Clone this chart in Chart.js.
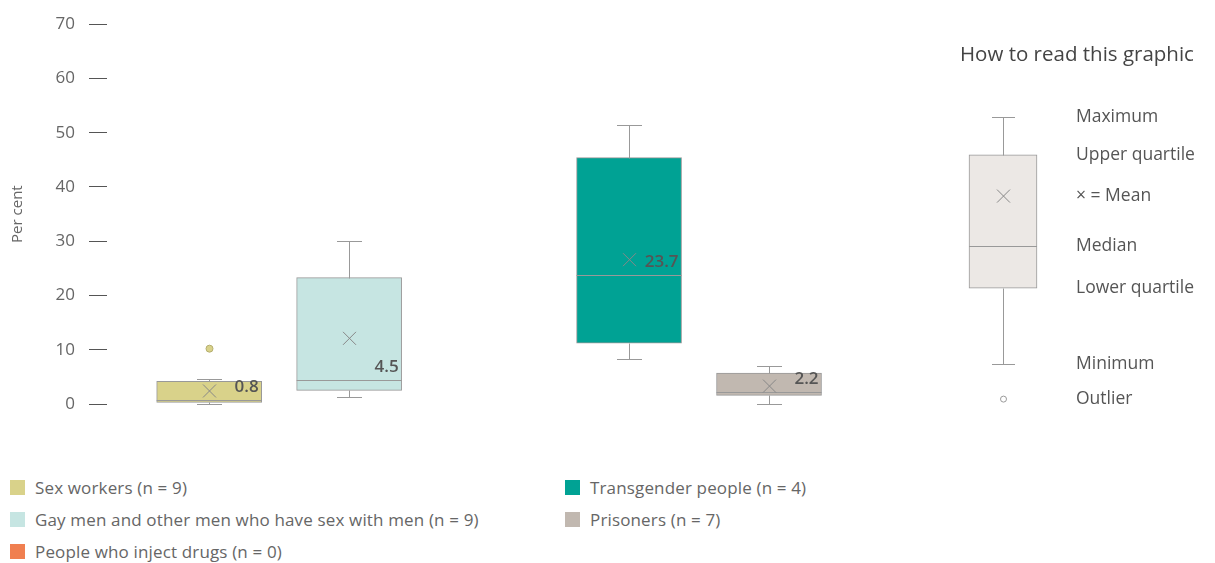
<!DOCTYPE html>
<html>
<head>
<meta charset="utf-8">
<script src="https://cdn.jsdelivr.net/npm/chart.js@4.4.1/dist/chart.umd.min.js"></script>
<style>
	body { margin: 0; width: 1215px; height: 563px; background: #fff; position: relative; overflow: hidden; font-family: "Open Sans", sans-serif; }
	#main { position: absolute; left: 0; top: 0; }
	#key { position: absolute; left: 940px; top: 0; }
	#keyTitle { position: absolute; left: 960px; top: 39px; font-size: 20.5px; line-height: 28px; color: #444; }
	#legend { position: absolute; left: 10px; top: 471px; display: grid; grid-auto-flow: column; grid-template-rows: repeat(3, 32px); grid-template-columns: 555px auto; }
	.item { display: flex; align-items: center; font-size: 17px; letter-spacing: 0.15px; color: #666; }
	.swatch { width: 15px; height: 15px; margin-right: 10px; }
</style>
</head>
<body>
<canvas id="main" width="860" height="430"></canvas>
<canvas id="key" width="275" height="430"></canvas>
<div id="keyTitle">How to read this graphic</div>
<div id="legend"></div>
<script>
// groups
const categories = ['Sex workers', 'Gay men and other men who have sex with men', 'People who inject drugs', 'Transgender people', 'Prisoners'];
const groupSizes = [9, 9, 0, 4, 7];
const colours = ['#d9d28a', '#c6e5e2', '#f07f50', '#00a294', '#c1b8b0'];

// box plot values (per cent)
const minValues = [0, 1.2, null, 8.3, 0];
const q1Values = [0.3, 2.5, null, 11.2, 1.6];
const medianValues = [0.8, 4.5, null, 23.7, 2.2];
const q3Values = [4.2, 23.3, null, 45.4, 5.7];
const maxValues = [4.6, 30, null, 51.5, 7.0];
const meanValues = [2.4, 12.1, null, 26.6, 3.3];
const outlierValues = [[10.2], [], [], [], []];

const yTicks = [0, 10, 20, 30, 40, 50, 60, 70];

// "how to read" key
const keyMin = [7.4];
const keyQ1 = [21.3];
const keyMedian = [29];
const keyQ3 = [45.8];
const keyMax = [52.7];
const keyMean = [38.2];
const keyOutliers = [[0.9]];
const keyTexts = ['Maximum', 'Upper quartile', '\u00d7 = Mean', 'Median', 'Lower quartile', 'Minimum', 'Outlier'];

const FONT = '"Open Sans", sans-serif';

// whiskers, median, mean and outliers on top of the floating bars
const boxExtras = {
	id: 'boxExtras',
	afterDatasetsDraw(chart, args, opts) {
		const ctx = chart.ctx;
		const ys = chart.scales.y;
		const meta = chart.getDatasetMeta(0);
		const line = (x1, y1, x2, y2) => {
			ctx.beginPath();
			ctx.moveTo(x1, y1);
			ctx.lineTo(x2, y2);
			ctx.stroke();
		};
		ctx.save();
		ctx.lineWidth = 1;
		meta.data.forEach((bar, i) => {
			if (opts.median[i] === null) return;
			const x = Math.round(bar.x) + 0.5;
			const half = bar.width / 2;
			const py = v => Math.round(ys.getPixelForValue(v)) + 0.5;
			const yMin = py(opts.min[i]), yQ1 = py(opts.q1[i]), yMed = py(opts.median[i]);
			const yQ3 = py(opts.q3[i]), yMax = py(opts.max[i]), yMean = ys.getPixelForValue(opts.mean[i]);
			const cap = opts.capWidth / 2;

			ctx.strokeStyle = '#999';
			line(x, yQ3, x, yMax);
			line(x - cap, yMax, x + cap, yMax);
			line(x, yQ1, x, yMin);
			line(x - cap, yMin, x + cap, yMin);
			line(bar.x - half, yMed, bar.x + half, yMed);

			ctx.strokeStyle = '#888';
			const s = 6.5;
			line(x - s, yMean - s, x + s, yMean + s);
			line(x - s, yMean + s, x + s, yMean - s);

			opts.outliers[i].forEach(v => {
				ctx.beginPath();
				ctx.arc(x, ys.getPixelForValue(v), opts.outlierRadius, 0, Math.PI * 2);
				ctx.fillStyle = opts.outlierFill || colours[i];
				ctx.fill();
				ctx.strokeStyle = opts.outlierStroke;
				ctx.stroke();
			});

			if (opts.showMedian) {
				ctx.fillStyle = '#555';
				ctx.font = '600 17px ' + FONT;
				ctx.textAlign = 'right';
				ctx.textBaseline = 'alphabetic';
				ctx.fillText(String(opts.median[i]), bar.x + half - 3, yMed - 8.5);
			}
		});

		if (opts.keyLabels) {
			ctx.fillStyle = '#555';
			ctx.font = '17.5px ' + FONT;
			ctx.textAlign = 'left';
			ctx.textBaseline = 'middle';
			opts.keyLabels.forEach(l => {
				ctx.fillText(l.text, chart.chartArea.right + 23, ys.getPixelForValue(l.value));
			});
		}
		ctx.restore();
	}
};

new Chart(document.getElementById('main'), {
	type: 'bar',
	data: {
		datasets: [{
			data: categories.map((c, i) => ({ x: i + 1, y: q1Values[i] === null ? null : [q1Values[i], q3Values[i]] })),
			backgroundColor: colours,
			borderColor: '#999',
			borderWidth: 1,
			borderSkipped: false,
			barThickness: 105
		}]
	},
	options: {
		responsive: false,
		animation: false,
		layout: { padding: { top: 23, bottom: 26, left: 0, right: 0 } },
		scales: {
			x: { type: 'linear', min: 0.27, max: 5.65, offset: false, display: false },
			y: {
				min: 0,
				max: 70,
				afterBuildTicks: axis => { axis.ticks = yTicks.map(v => ({ value: v })); },
				afterFit: axis => { axis.width = 107; },
				ticks: { color: '#666', font: { size: 17, family: FONT }, padding: 14 },
				grid: { drawOnChartArea: false, tickLength: 18, color: '#555' },
				border: { display: false },
				title: { display: true, text: 'Per cent', color: '#666', font: { size: 15, family: FONT }, padding: { top: 9, bottom: 0 } }
			}
		},
		plugins: {
			legend: { display: false },
			tooltip: { enabled: false },
			boxExtras: {
				min: minValues, q1: q1Values, median: medianValues, q3: q3Values,
				max: maxValues, mean: meanValues, outliers: outlierValues,
				capWidth: 25, outlierRadius: 3.5, outlierStroke: '#b5ae6f', showMedian: true
			}
		}
	},
	plugins: [boxExtras]
});

new Chart(document.getElementById('key'), {
	type: 'bar',
	data: {
		labels: ['key'],
		datasets: [{
			data: [[keyQ1[0], keyQ3[0]]],
			backgroundColor: '#ece8e5',
			borderColor: '#999',
			borderWidth: 1,
			borderSkipped: false,
			barThickness: 68
		}]
	},
	options: {
		responsive: false,
		animation: false,
		layout: { padding: { top: 23, bottom: 26, left: 13, right: 162 } },
		scales: {
			x: { display: false },
			y: { min: 0, max: 70, display: false }
		},
		plugins: {
			legend: { display: false },
			tooltip: { enabled: false },
			boxExtras: {
				min: keyMin, q1: keyQ1, median: keyMedian, q3: keyQ3,
				max: keyMax, mean: keyMean, outliers: keyOutliers,
				capWidth: 23, outlierRadius: 3, outlierFill: '#fff', outlierStroke: '#999', showMedian: false,
				keyLabels: [keyMax[0], keyQ3[0], keyMean[0], keyMedian[0], keyQ1[0], keyMin[0], keyOutliers[0][0]]
					.map((v, i) => ({ text: keyTexts[i], value: v }))
			}
		}
	},
	plugins: [boxExtras]
});

// legend, filled column by column
const legend = document.getElementById('legend');
categories.forEach((c, i) => {
	const item = document.createElement('div');
	item.className = 'item';
	item.innerHTML = '<span class="swatch" style="background:' + colours[i] + '"></span>' + c + ' (n = ' + groupSizes[i] + ')';
	legend.appendChild(item);
});
</script>
</body>
</html>
